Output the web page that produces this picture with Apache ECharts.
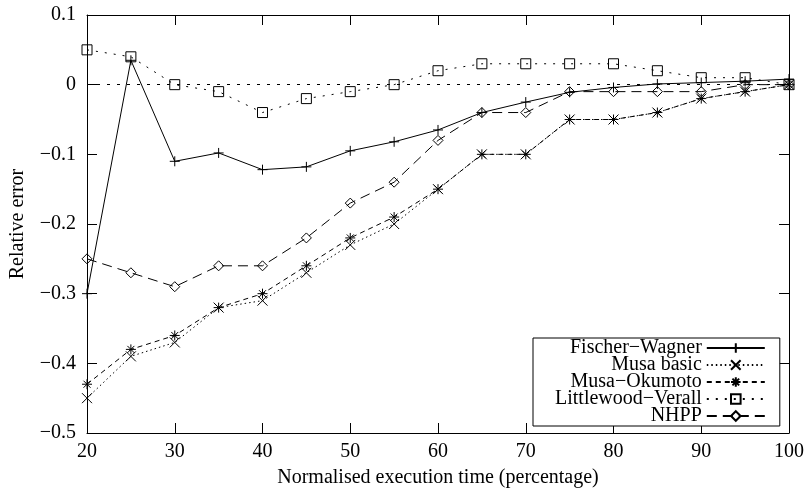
<!DOCTYPE html>
<html>
<head>
<meta charset="utf-8">
<script src="https://cdn.jsdelivr.net/npm/echarts@6/dist/echarts.min.js"></script>
<style>
  html, body { margin: 0; padding: 0; background: #fff; }
  #chart { width: 809px; height: 494px; }
</style>
</head>
<body>
<div id="chart"></div>
<script>
// execution time (percentage)
const xs = [20, 25, 30, 35, 40, 45, 50, 55, 60, 65, 70, 75, 80, 85, 90, 95, 100]

const fischerWagner = [-0.30, 0.035, -0.11, -0.098, -0.122, -0.118, -0.095, -0.082, -0.065, -0.04, -0.025, -0.011, -0.004, 0.001, 0.003, 0.005, 0.008]
const musaBasic = [-0.45, -0.39, -0.37, -0.32, -0.31, -0.27, -0.23, -0.20, -0.15, -0.10, -0.10, -0.05, -0.05, -0.04, -0.02, -0.01, 0]
const musaOkumoto = [-0.43, -0.38, -0.36, -0.32, -0.30, -0.26, -0.22, -0.19, -0.15, -0.10, -0.10, -0.05, -0.05, -0.04, -0.02, -0.01, 0]
const littlewoodVerall = [0.05, 0.04, 0, -0.01, -0.04, -0.02, -0.01, 0, 0.02, 0.03, 0.03, 0.03, 0.03, 0.02, 0.01, 0.01, 0]
const nhpp = [-0.25, -0.27, -0.29, -0.26, -0.26, -0.22, -0.17, -0.14, -0.08, -0.04, -0.04, -0.01, -0.01, -0.01, -0.01, 0, 0]

const seriesNames = ['Fischer\u2212Wagner', 'Musa basic', 'Musa\u2212Okumoto', 'Littlewood\u2212Verall', 'NHPP']

const FONT = 'Liberation Serif'

// gnuplot-like point types
const symPlus = 'path://M0,5L10,5M5,0L5,10'
const symCross = 'path://M0,0L10,10M10,0L0,10'
const symStar = 'path://M0,5L10,5M5,0L5,10M1.5,1.5L8.5,8.5M8.5,1.5L1.5,8.5'
const symBox = 'path://M0,0L10,0L10,10L0,10Z'
const symDiamond = 'path://M5,0L10,5L5,10L0,5Z'

function pairs(vals) {
  return xs.map((x, i) => [x, vals[i]])
}

function makeSeries(name, vals, symbol, dash) {
  return {
    name: name,
    type: 'line',
    data: pairs(vals),
    symbol: symbol,
    symbolSize: 10,
    showAllSymbol: true,
    animation: false,
    lineStyle: { color: '#000', width: 1, type: dash },
    itemStyle: { color: 'rgba(0,0,0,0)', borderColor: '#000', borderWidth: 1 },
    emphasis: { disabled: true }
  }
}

function yLabel(v) {
  if (Math.abs(v) < 1e-9) return '0'
  return v.toFixed(1).replace('-', '\u2212')
}

const chart = echarts.init(document.getElementById('chart'))

const lvSeries = makeSeries(seriesNames[3], littlewoodVerall, symBox, [2, 7])
// dotted zero axis
lvSeries.markLine = {
  silent: true,
  symbol: 'none',
  label: { show: false },
  lineStyle: { color: '#000', width: 1, type: [3, 7] },
  data: [{ yAxis: 0 }]
}

chart.setOption({
  backgroundColor: '#fff',
  textStyle: { fontFamily: FONT },
  grid: { left: 87, right: 20, top: 15, bottom: 61 },
  legend: {
    orient: 'vertical',
    left: 533,
    top: 338,
    align: 'right',
    backgroundColor: '#fff',
    borderColor: '#000',
    borderWidth: 1,
    borderRadius: 0,
    padding: [0, 14, 0, 22],
    itemGap: -3,
    itemWidth: 58,
    itemHeight: 12,
    selectedMode: false,
    textStyle: {
      fontFamily: FONT,
      fontSize: 20,
      color: '#000'
    },
    data: seriesNames
  },
  xAxis: [
    {
      type: 'value',
      min: 20,
      max: 100,
      interval: 10,
      name: 'Normalised execution time (percentage)',
      nameLocation: 'middle',
      nameGap: 35,
      nameTextStyle: { fontFamily: FONT, fontSize: 20, color: '#000' },
      axisLine: { onZero: false, lineStyle: { color: '#000', width: 1 } },
      axisTick: { inside: true, length: 10, lineStyle: { color: '#000' } },
      axisLabel: { margin: 9, fontFamily: FONT, fontSize: 20, color: '#000' },
      splitLine: { show: false }
    },
    {
      type: 'value',
      position: 'top',
      min: 20,
      max: 100,
      interval: 10,
      axisLine: { onZero: false, lineStyle: { color: '#000', width: 1 } },
      axisTick: { inside: true, length: 10, lineStyle: { color: '#000' } },
      axisLabel: { show: false },
      splitLine: { show: false }
    }
  ],
  yAxis: [
    {
      type: 'value',
      min: -0.5,
      max: 0.1,
      interval: 0.1,
      name: 'Relative error',
      nameLocation: 'middle',
      nameGap: 59,
      nameTextStyle: { fontFamily: FONT, fontSize: 20, color: '#000' },
      axisLine: { show: true, onZero: false, lineStyle: { color: '#000', width: 1 } },
      axisTick: { show: true, inside: true, length: 10, lineStyle: { color: '#000' } },
      axisLabel: { margin: 11, fontFamily: FONT, fontSize: 20, color: '#000', formatter: yLabel },
      splitLine: { show: false }
    },
    {
      type: 'value',
      position: 'right',
      min: -0.5,
      max: 0.1,
      interval: 0.1,
      axisLine: { show: true, onZero: false, lineStyle: { color: '#000', width: 1 } },
      axisTick: { show: true, inside: true, length: 10, lineStyle: { color: '#000' } },
      axisLabel: { show: false },
      splitLine: { show: false }
    }
  ],
  series: [
    makeSeries(seriesNames[0], fischerWagner, symPlus, 'solid'),
    makeSeries(seriesNames[1], musaBasic, symCross, [1.5, 3]),
    makeSeries(seriesNames[2], musaOkumoto, symStar, [5, 4]),
    lvSeries,
    makeSeries(seriesNames[4], nhpp, symDiamond, [10, 6])
  ]
})
</script>
</body>
</html>
